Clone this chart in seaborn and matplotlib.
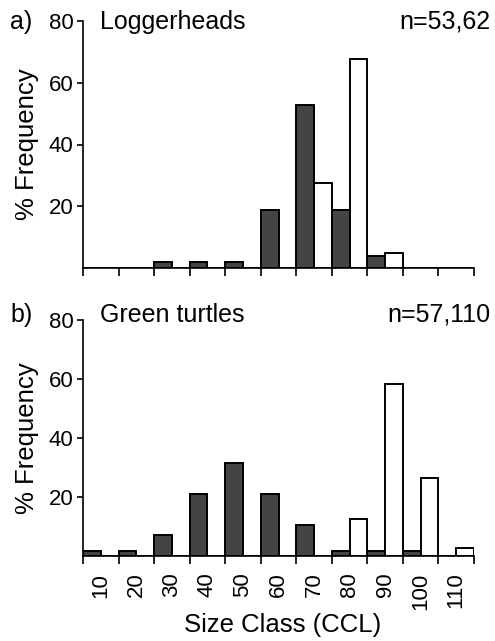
import matplotlib
matplotlib.use("Agg")
import matplotlib.pyplot as plt
import seaborn as sns
import pandas as pd
import numpy as np

size_classes = ["10", "20", "30", "40", "50", "60", "70", "80", "90", "100", "110"]
series_names = ["Group 1", "Group 2"]

logger_dark = [0.0, 0.0, 1.9, 1.9, 1.9, 18.9, 52.8, 18.9, 3.8, 0.0, 0.0]
logger_white = [0.0, 0.0, 0.0, 0.0, 0.0, 0.0, 27.4, 67.7, 4.8, 0.0, 0.0]
green_dark = [1.75, 1.75, 7.0, 21.05, 31.6, 21.05, 10.5, 1.75, 1.75, 1.75, 0.0]
green_white = [0.0, 0.0, 0.0, 0.0, 0.0, 0.0, 0.0, 12.7, 58.2, 26.4, 2.7]

yticks = [20, 40, 60, 80]

panels = [
    ("a)", "Loggerheads", "n=53,62", logger_dark, logger_white),
    ("b)", "Green turtles", "n=57,110", green_dark, green_white),
]

sns.set_theme(style="ticks")
plt.rcParams["font.family"] = ["Liberation Sans", "DejaVu Sans"]
plt.rcParams["text.color"] = "black"
plt.rcParams["axes.labelcolor"] = "black"
plt.rcParams["xtick.color"] = "black"
plt.rcParams["ytick.color"] = "black"

W, H = 495, 641
fig = plt.figure(figsize=(W / 100, H / 100), dpi=100)

# axes boxes in pixels: left, right, top(y80), bottom(y0)
boxes = [(83, 474, 21, 268), (83, 474, 320, 556)]
text_base = [29, 322]

fs_title = 18
fs_tick = 16
fs_label = 18.5
for i, (tag, title, ntxt, dark, white) in enumerate(panels):
    l, r, t, b = boxes[i]
    ax = fig.add_axes([l / W, 1 - b / H, (r - l) / W, (b - t) / H])
    df = pd.DataFrame({
        "size": size_classes * 2,
        "pct": list(dark) + list(white),
        "series": [series_names[0]] * len(size_classes) + [series_names[1]] * len(size_classes),
    })
    sns.barplot(data=df, x="size", y="pct", hue="series", order=size_classes,
                hue_order=series_names, palette=["#444444", "#ffffff"],
                width=1.0, dodge=True, edgecolor="black", linewidth=1.4,
                saturation=1, legend=False, ax=ax, errorbar=None)
    ax.set_xlim(-0.5, len(size_classes) - 0.5)
    ax.set_ylim(0, 80)
    ax.set_yticks(yticks)
    ax.set_yticklabels([str(v) for v in yticks], fontsize=fs_tick, color="black")
    ax.tick_params(axis="y", length=4, width=1.2, pad=3, colors="black")
    # boundaries as minor ticks
    ax.set_xticks(np.arange(-0.5, len(size_classes), 1.0), minor=True)
    ax.tick_params(axis="x", which="minor", length=6, width=1.2, direction="out", colors="black")
    ax.set_xticks(range(len(size_classes)))
    if i == 1:
        ax.set_xticklabels(size_classes, rotation=90, fontsize=fs_tick, color="black")
        ax.tick_params(axis="x", which="major", length=0, pad=12)
    else:
        ax.set_xticklabels([])
        ax.tick_params(axis="x", which="major", length=0)
    for s in ["top", "right"]:
        ax.spines[s].set_visible(False)
    for s in ["left", "bottom"]:
        ax.spines[s].set_linewidth(1.2)
        ax.spines[s].set_color("black")
    ax.set_xlabel("")
    ax.set_ylabel("% Frequency", fontsize=fs_label, color="black")
    ax.yaxis.set_label_coords(-0.113, 0.5)
    fig.text(10 / W, 1 - text_base[i] / H, tag, fontsize=fs_title, ha="left", va="baseline", color="black")
    fig.text(100 / W, 1 - text_base[i] / H, title, fontsize=fs_title, ha="left", va="baseline", color="black")
    fig.text(490 / W, 1 - text_base[i] / H, ntxt, fontsize=fs_title, ha="right", va="baseline", color="black")

fig.text(283 / W, 1 - 632 / H, "Size Class (CCL)", fontsize=fs_label, ha="center", va="baseline", color="black")

fig.savefig("out.png", dpi=100, facecolor="white")
